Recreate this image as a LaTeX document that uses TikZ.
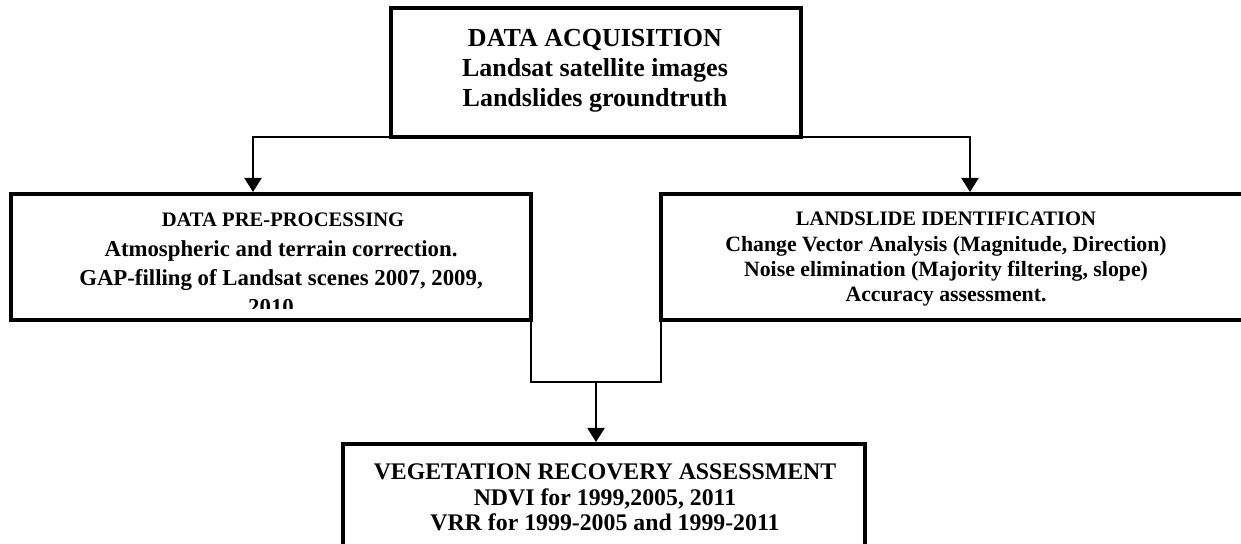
\documentclass[tikz,border=0pt]{standalone}
\usepackage{fontspec}
\setmainfont{Liberation Serif}
\usetikzlibrary{arrows.meta}
\newcommand\ftopbox{\fontsize{13bp}{15bp}\selectfont\bfseries}
\newcommand\fprehead{\fontsize{10.3bp}{12bp}\selectfont\bfseries}
\newcommand\fprebody{\fontsize{11.4bp}{13bp}\selectfont\bfseries}
\newcommand\flidhead{\fontsize{10.3bp}{12bp}\selectfont\bfseries}
\newcommand\flidbody{\fontsize{10.9bp}{12bp}\selectfont\bfseries}
\newcommand\fvegbox{\fontsize{11.9bp}{14bp}\selectfont\bfseries}
\begin{document}
\begin{tikzpicture}[x=0.5bp,y=-0.5bp,
  box/.style={draw, line width=2bp, rectangle, inner sep=0pt, outer sep=0pt},
  conn/.style={line width=1bp},
  arr/.style={-{Triangle[length=7bp,width=8.5bp]}, shorten >=1bp},
  txt/.style={anchor=base, inner sep=0pt}]
\useasboundingbox (0,0) rectangle (1241,544);

% boxes
\node[box, minimum width=205bp, minimum height=64.5bp] (acq) at (596,72.5) {};
\node[box, minimum width=260bp, minimum height=62.75bp] (pre) at (271,256.75) {};
\node[box, minimum width=319.5bp, minimum height=63bp] (lid) at (980.5,257) {};
\node[box, minimum width=261bp, minimum height=78bp] (veg) at (604,522) {};

% top box text
\node[txt, font=\ftopbox] (acq1) at (595,47) {DATA ACQUISITION};
\node[txt, font=\ftopbox] (acq2) at (595,77) {Landsat satellite images};
\node[txt, font=\ftopbox] (acq3) at (595,107) {Landslides groundtruth};

% left box text (clipped by the box)
\begin{scope}
\clip (13,196) rectangle (529,309);
\node[txt, font=\fprehead] (pre1) at (283,227) {DATA PRE-PROCESSING};
\node[txt, font=\fprebody] (pre2) at (281,256.5) {Atmospheric and terrain correction.};
\node[txt, font=\fprebody] (pre3) at (281,285.5) {GAP-filling of Landsat scenes 2007, 2009,};
\node[txt, font=\fprebody] (pre4) at (271,314.5) {2010};
\end{scope}

% right box text (clipped by the box)
\begin{scope}
\clip (663,196) rectangle (1241,305.5);
\node[txt, font=\flidhead] (lid1) at (946,226) {LANDSLIDE IDENTIFICATION};
\node[txt, font=\flidbody] (lid2) at (946,252) {Change Vector Analysis (Magnitude, Direction)};
\node[txt, font=\flidbody] (lid3) at (946,277) {Noise elimination (Majority filtering, slope)};
\node[txt, font=\flidbody] (lid4) at (946,302) {Accuracy assessment.};
\end{scope}

% bottom box text
\node[txt, font=\fvegbox] (veg1) at (605,479) {VEGETATION RECOVERY ASSESSMENT};
\node[txt, font=\fvegbox] (veg2) at (605,505) {NDVI for 1999,2005, 2011};
\node[txt, font=\fvegbox] (veg3) at (605,530) {VRR for 1999-2005 and 1999-2011};

% connectors
\coordinate (lx) at (253,0);
\coordinate (rx) at (970,0);
\coordinate (m) at (596,382);
\draw[conn, arr] (acq.south west) -| (lx |- pre.north);
\draw[conn, arr] (acq.south east) -| (rx |- lid.north);
\draw[conn] (pre.south east) |- (m) -| (lid.south west);
\draw[conn, arr] (m) -- (m |- veg.north);
\end{tikzpicture}
\end{document}
